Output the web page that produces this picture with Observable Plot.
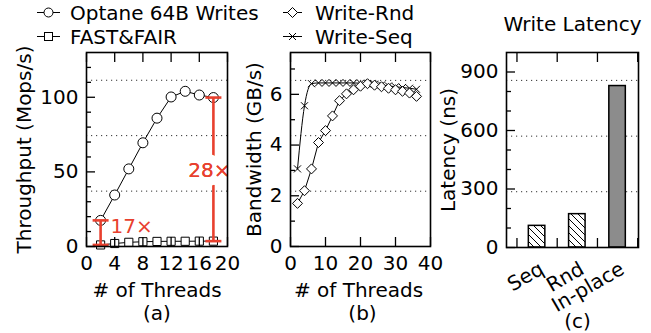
<!DOCTYPE html>
<html><head><meta charset="utf-8">
<script src="https://cdn.jsdelivr.net/npm/d3@7"></script>
<script src="https://cdn.jsdelivr.net/npm/@observablehq/plot@0.6"></script>
<style>
html,body{margin:0;padding:0;background:#fff;}
#wrap{position:relative;width:651px;height:333px;overflow:hidden;font-family:"DejaVu Sans";color:#000;background:#fff;}
#wrap svg.panel{position:absolute;left:0;top:0;overflow:visible;}
.leg{position:absolute;font-size:20px;line-height:24px;white-space:nowrap;}
.sym{position:absolute;overflow:visible;}
</style></head><body>
<div id="wrap">
  <svg class="sym" style="left:35px;top:2px" width="30" height="20"><line x1="2" y1="10.5" x2="25" y2="10.5" stroke="#000"/><circle cx="13.5" cy="10.5" r="4.5" fill="#fff" stroke="#000"/></svg>
  <div class="leg" style="left:70px;top:1px">Optane 64B Writes</div>
  <svg class="sym" style="left:35px;top:26px" width="30" height="20"><line x1="2" y1="10.5" x2="25" y2="10.5" stroke="#000"/><rect x="9.5" y="6.5" width="8" height="8" fill="#fff" stroke="#000"/></svg>
  <div class="leg" style="left:70px;top:25px">FAST&amp;FAIR</div>
  <svg class="sym" style="left:281px;top:2px" width="30" height="20"><line x1="2" y1="10.5" x2="21" y2="10.5" stroke="#000"/><path d="M11.5,5.5L16.5,10.5L11.5,15.5L6.5,10.5Z" fill="#fff" stroke="#000"/></svg>
  <div class="leg" style="left:315px;top:1px">Write-Rnd</div>
  <svg class="sym" style="left:281px;top:26px" width="30" height="20"><line x1="2" y1="10.5" x2="21" y2="10.5" stroke="#000"/><path d="M8,7L15,14M8,14L15,7" stroke="#000"/></svg>
  <div class="leg" style="left:315px;top:25px">Write-Seq</div>
</div>
<script>
// ---------------- data ----------------
const threadsA = [2, 4, 6, 8, 10, 12, 14, 16, 18];
const optaneWrites = [17.5, 34.5, 52, 69.5, 86, 100.2, 104, 101.5, 99.8];
const fastFair = [1.05, 2.0, 2.8, 3.2, 3.4, 3.5, 3.5, 3.6, 3.6];
const ratioThreads = [2, 18];
const ratioLabels = ["17×", "28×"];

const threadsB = [2, 4, 6, 8, 10, 12, 14, 16, 18, 20, 22, 24, 26, 28, 30, 32, 34, 36];
const writeRnd = [1.70, 2.2, 3.06, 4.1, 4.57, 5.15, 5.75, 6.02, 6.18, 6.32, 6.42, 6.36, 6.3, 6.24, 6.18, 6.12, 6.05, 5.92];
const writeSeq = [3.06, 5.55, 6.42, 6.45, 6.45, 6.45, 6.45, 6.45, 6.45, 6.44, 6.42, 6.4, 6.37, 6.33, 6.3, 6.27, 6.24, 6.2];

const latencyCats = ["Seq", "Rnd", "In-place"];
const latencyVals = [111, 171, 828];

const xTicksA = [0, 4, 8, 12, 16, 20];
const yTicksA = [0, 50, 100];
const yMinorA = [10, 20, 30, 40, 60, 70, 80, 90, 110, 120];
const gridA = [37.1, 74.3, 111.4];

const xTicksB = [0, 10, 20, 30, 40];
const yTicksB = [0, 2, 4, 6];
const yMinorB = [1, 3, 5, 7];
const gridB = [2.18, 4.37, 6.55];

const xTicksC = [-0.5, 0.5, 1.5, 2.5];
const yTicksC = [0, 300, 600, 900];
const yMinorC = [100, 200, 400, 500, 700, 800];
const gridC = [286, 571, 857];

// ---------------- helpers ----------------
const RED = "#e8402e";
const FONT = 20;
const wrap = document.getElementById("wrap");
const tableA = threadsA.map((t, i) => ({t, optane: optaneWrites[i], ff: fastFair[i]}));
const tableB = threadsB.map((t, i) => ({t, rnd: writeRnd[i], seq: writeSeq[i]}));
const ann = ratioThreads.map((t, i) => {
  const k = threadsA.indexOf(t);
  return {t, lo: fastFair[k], hi: optaneWrites[k], mid: (fastFair[k] + optaneWrites[k]) / 2, label: ratioLabels[i]};
});
const latency = latencyCats.map((c, i) => ({c, i, v: latencyVals[i]}));

const capSymbol = {draw(ctx) { ctx.moveTo(-8, 0); ctx.lineTo(8, 0); }};

function frameAxes({xTicks, yTicks, yMinor, xLabels = true}) {
  const none = {label: null, tickFormat: () => "", strokeWidth: 1.3};
  return [
    Plot.axisX({anchor: "bottom", ticks: xTicks, tickSize: -9, ...none}),
    Plot.axisX({anchor: "top", ticks: xTicks, tickSize: -9, ...none}),
    xLabels ? Plot.axisX({anchor: "bottom", ticks: xTicks, tickSize: 0, tickPadding: 9, fontSize: FONT, label: null}) : null,
    Plot.axisY({anchor: "left", ticks: yTicks, tickSize: -9, ...none}),
    Plot.axisY({anchor: "left", ticks: yMinor, tickSize: -5, ...none}),
    Plot.axisY({anchor: "left", ticks: yTicks, tickSize: 0, tickPadding: 8, fontSize: FONT, label: null}),
    Plot.frame({stroke: "#000", strokeWidth: 1.6})
  ];
}
function base(ml, mr, mt, mb) {
  return {width: 651, height: 333, marginLeft: ml, marginRight: mr, marginTop: mt, marginBottom: mb,
    style: {fontFamily: "DejaVu Sans", fontSize: FONT + "px", background: "transparent", color: "#000", overflow: "visible"}};
}
const grid = (vals) => Plot.ruleY(vals, {stroke: "#333", strokeWidth: 1, strokeDasharray: "1.2,3.8"});
const lab = (t, o) => Plot.text([t], {fontSize: FONT, fill: "#000", textAnchor: "middle", lineAnchor: "middle", ...o});

// ---------------- panel (a) ----------------
const pa = Plot.plot({
  ...base(86, 424, 52, 87),
  x: {domain: [0, 20], axis: null},
  y: {domain: [0, 130], axis: null},
  marks: [
    grid(gridA),
    Plot.line(tableA, {x: "t", y: "optane", stroke: "#000", strokeWidth: 1}),
    Plot.dot(tableA, {x: "t", y: "optane", r: 5, symbol: "circle", fill: "#fff", stroke: "#000", strokeWidth: 1}),
    Plot.line(tableA, {x: "t", y: "ff", stroke: "#000", strokeWidth: 1}),
    Plot.dot(tableA, {x: "t", y: "ff", r: 4.6, symbol: "square", fill: "#fff", stroke: "#000", strokeWidth: 1}),
    Plot.ruleX(ann, {x: "t", y1: "lo", y2: "hi", stroke: RED, strokeWidth: 2.6}),
    Plot.dot(ann, {x: "t", y: "lo", symbol: capSymbol, stroke: RED, strokeWidth: 2.6, fill: "none"}),
    Plot.dot(ann, {x: "t", y: "hi", symbol: capSymbol, stroke: RED, strokeWidth: 2.6, fill: "none"}),
    Plot.text(ann.slice(0, 1), {x: "t", y: "mid", text: "label", fill: RED, fontSize: FONT, textAnchor: "start", dx: 10, dy: -6}),
    Plot.text(ann.slice(1), {x: "t", y: "mid", text: "label", fill: RED, fontSize: FONT, textAnchor: "middle", dx: -4, dy: 1,
      stroke: "#fff", strokeWidth: 18, strokeLinejoin: "round"}),
    Plot.text(ann.slice(1), {x: "t", y: "mid", text: "label", fill: RED, fontSize: FONT, textAnchor: "middle", dx: -4, dy: 1}),
    ...frameAxes({xTicks: xTicksA, yTicks: yTicksA, yMinor: yMinorA}),
    lab("Throughput (Mops/s)", {frameAnchor: "left", dx: -62, rotate: -90}),
    lab("# of Threads", {frameAnchor: "bottom", dy: 44}),
    lab("(a)", {frameAnchor: "bottom", dy: 67})
  ]
});

// ---------------- panel (b) ----------------
const pb = Plot.plot({
  ...base(290, 221, 52, 87),
  x: {domain: [0, 40], axis: null},
  y: {domain: [0, 7.65], axis: null},
  marks: [
    grid(gridB),
    Plot.line(tableB, {x: "t", y: "seq", stroke: "#000", strokeWidth: 1, curve: "monotone-x"}),
    Plot.dot(tableB, {x: "t", y: "seq", r: 3.3, symbol: "times", stroke: "#000", strokeWidth: 1}),
    Plot.line(tableB, {x: "t", y: "rnd", stroke: "#000", strokeWidth: 1}),
    Plot.dot(tableB, {x: "t", y: "rnd", r: 4.5, symbol: "diamond2", fill: "#fff", stroke: "#000", strokeWidth: 1}),
    ...frameAxes({xTicks: xTicksB, yTicks: yTicksB, yMinor: yMinorB}),
    lab("Bandwidth (GB/s)", {frameAnchor: "left", dx: -36, rotate: -90}),
    lab("# of Threads", {frameAnchor: "bottom", dy: 44, dx: -2}),
    lab("(b)", {frameAnchor: "bottom", dy: 67, dx: 2})
  ]
});

// ---------------- panel (c) ----------------
const pc = Plot.plot({
  ...base(506, 13, 52, 86),
  x: {domain: [-0.76, 2.52], axis: null},
  y: {domain: [0, 1000], axis: null},
  marks: [
    grid(gridC),
    Plot.rectY(latency, {x1: d => d.i - 0.205, x2: d => d.i + 0.205, y: "v",
      fill: d => d.c === "In-place" ? "#8c8c8c" : "url(#hatchC)", stroke: "#000", strokeWidth: 1.5}),
    ...frameAxes({xTicks: xTicksC, yTicks: yTicksC, yMinor: yMinorC, xLabels: false}),
    Plot.text(latency, {x: "i", text: "c", frameAnchor: "bottom", fontSize: FONT, fill: "#000",
      textAnchor: "end", lineAnchor: "top", rotate: -30, dx: 1, dy: 13}),
    lab("Latency (ns)", {frameAnchor: "left", dx: -58, rotate: -90}),
    lab("Write Latency", {frameAnchor: "top", dy: -28}),
    lab("(c)", {frameAnchor: "bottom", dy: 74, dx: 5})
  ]
});

for (const p of [pa, pb, pc]) { p.classList.add("panel"); wrap.appendChild(p); }
// hatch pattern for the hatched bars
d3.select(pc).insert("defs", ":first-child").html(
  '<pattern id="hatchC" patternUnits="userSpaceOnUse" width="7" height="7">' +
  '<rect width="7" height="7" fill="#fff"/>' +
  '<path d="M0,0L7,7M-1,6L1,8M6,-1L8,1" stroke="#000" stroke-width="1"/></pattern>');
</script>
</body></html>
